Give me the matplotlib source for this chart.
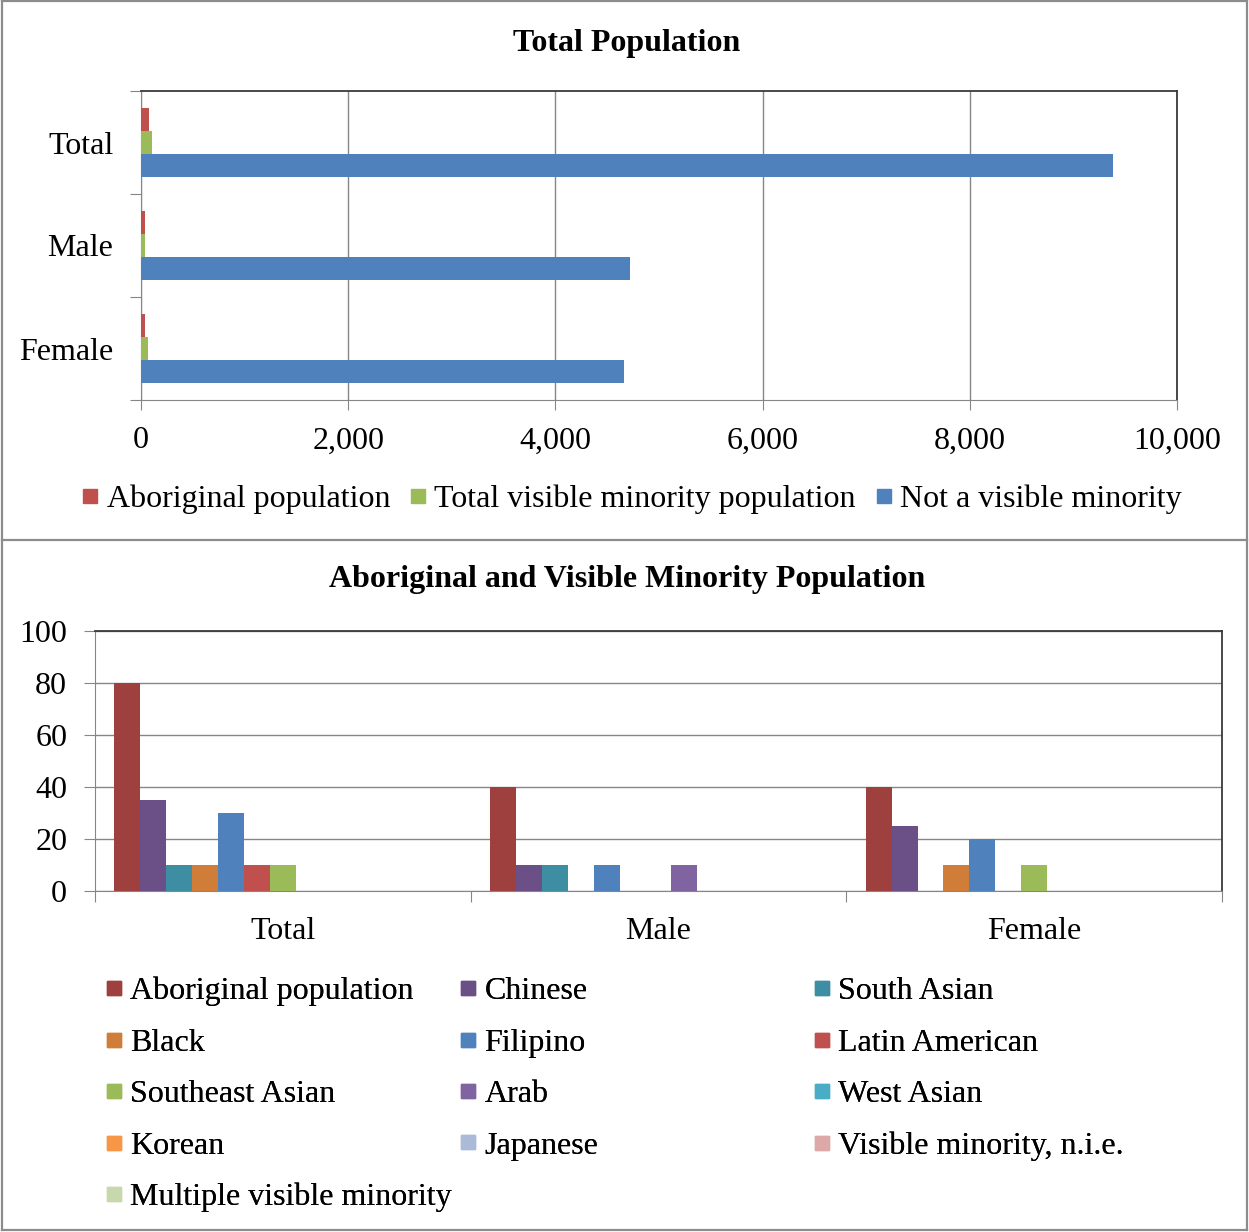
import numpy as np
import matplotlib
matplotlib.use('Agg')
import matplotlib.pyplot as plt
from matplotlib.lines import Line2D
from matplotlib.ticker import FuncFormatter

plt.rcParams['font.family'] = ['Liberation Serif', 'DejaVu Serif']

# --- data: total population ---
categories = ['Total', 'Male', 'Female']
aboriginal_pop = [80, 40, 40]
visible_minority_pop = [105, 40, 65]
not_visible_minority = [9385, 4720, 4665]

top_series = ['Aboriginal population', 'Total visible minority population', 'Not a visible minority']
top_colors = ['#C0504D', '#9BBB59', '#4F81BD']

# --- data: aboriginal and visible minority groups (Total, Male, Female) ---
aboriginal = [80, 40, 40]
chinese = [35, 10, 25]
south_asian = [10, 10, 0]
black = [10, 0, 10]
filipino = [30, 10, 20]
latin_american = [10, 0, 0]
southeast_asian = [10, 0, 10]
arab = [0, 10, 0]
west_asian = [0, 0, 0]
korean = [0, 0, 0]
japanese = [0, 0, 0]
vis_min_nie = [0, 0, 0]
multiple_vis_min = [0, 0, 0]

group_names = ['Aboriginal population', 'Chinese', 'South Asian', 'Black', 'Filipino',
               'Latin American', 'Southeast Asian', 'Arab', 'West Asian', 'Korean',
               'Japanese', 'Visible minority, n.i.e.', 'Multiple visible minority']
group_values = [aboriginal, chinese, south_asian, black, filipino, latin_american,
                southeast_asian, arab, west_asian, korean, japanese, vis_min_nie,
                multiple_vis_min]
group_colors = ['#9E413E', '#6A5087', '#3D8DA3', '#CF7D39', '#4F81BD', '#C0504D',
                '#9BBB59', '#8064A2', '#4BACC6', '#F79646', '#AABAD7', '#DDA9A8',
                '#C7D8AD']

FS = 23
GREY = '#868686'
DARK = '#3a3a3a'
W, H = 1249, 1232

fig = plt.figure(figsize=(W / 100, H / 100), dpi=100)

def fx(px):
    return px / W

def fy(py):
    return 1 - py / H

# ---------- top chart ----------
ax1 = fig.add_axes([fx(141), fy(400), fx(1177) - fx(141), fy(91) - fy(400)])
y = np.arange(len(categories))
h = 1 / (3 + 1.5)
for k, (vals, col) in enumerate(zip([aboriginal_pop, visible_minority_pop, not_visible_minority], top_colors)):
    ax1.barh(y + (k - 1) * h, vals, height=h, color=col, zorder=3)
ax1.set_xlim(0, 10000)
ax1.set_ylim(2.5, -0.5)
ax1.set_xticks(np.arange(0, 10001, 2000))
ax1.xaxis.set_major_formatter(FuncFormatter(lambda v, p: f'{int(v):,}'))
ax1.tick_params(axis='x', length=7, color=GREY, labelsize=FS, pad=12)
ax1.set_yticks([-0.5, 0.5, 1.5, 2.5])
ax1.set_yticklabels([])
ax1.set_yticks(y, minor=True)
ax1.set_yticklabels(categories, minor=True)
ax1.tick_params(axis='y', which='major', length=8, color=GREY)
ax1.tick_params(axis='y', which='minor', length=0, labelsize=FS, pad=20)
ax1.grid(axis='x', color=GREY, lw=1, zorder=0)
for s in ['left', 'bottom']:
    ax1.spines[s].set_color(GREY)
for s in ['top', 'right']:
    ax1.spines[s].set_color(DARK)
    ax1.spines[s].set_linewidth(1.3)

fig.text(fx(627), fy(43), 'Total Population', ha='center', va='center',
         fontsize=FS, fontweight='bold')

top_handles = [Line2D([], [], marker='s', ls='none', markersize=10, color=c) for c in top_colors]
fig.legend(top_handles, top_series, loc='center', bbox_to_anchor=(fx(632), fy(499)),
           ncol=3, frameon=False, fontsize=FS, borderpad=0, borderaxespad=0,
           handlelength=0.5, handletextpad=0.26, columnspacing=0.62)

# ---------- bottom chart ----------
ax2 = fig.add_axes([fx(95), fy(891), fx(1222) - fx(95), fy(631) - fy(891)])
x = np.arange(len(categories))
w = 1 / (len(group_names) + 1.5)
for j, (vals, col) in enumerate(zip(group_values, group_colors)):
    ax2.bar(x + (j - 6) * w, vals, width=w, color=col, zorder=3)
ax2.set_xlim(-0.5, 2.5)
ax2.set_ylim(0, 100)
ax2.set_yticks(np.arange(0, 101, 20))
ax2.tick_params(axis='y', length=8, color=GREY, labelsize=FS, pad=12)
ax2.set_xticks([-0.5, 0.5, 1.5, 2.5])
ax2.set_xticklabels([])
ax2.set_xticks(x, minor=True)
ax2.set_xticklabels(categories, minor=True)
ax2.tick_params(axis='x', which='major', length=8, color=GREY)
ax2.tick_params(axis='x', which='minor', length=0, labelsize=FS, pad=19)
ax2.grid(axis='y', color=GREY, lw=1, zorder=0)
for s in ['left', 'bottom']:
    ax2.spines[s].set_color(GREY)
for s in ['top', 'right']:
    ax2.spines[s].set_color(DARK)
    ax2.spines[s].set_linewidth(1.3)

fig.text(fx(627), fy(580), 'Aboriginal and Visible Minority Population', ha='center',
         va='center', fontsize=FS, fontweight='bold')

# legend laid out row by row in three equal-width columns
handles = [Line2D([], [], marker='s', ls='none', markersize=10, color=c) for c in group_colors]
col_x = [106, 460, 814]
for c in range(3):
    idx = list(range(c, len(group_names), 3))
    leg = fig.legend([handles[i] for i in idx], [group_names[i] for i in idx],
                     loc='upper left', bbox_to_anchor=(fx(col_x[c]), fy(977)),
                     frameon=False, fontsize=FS, borderpad=0, borderaxespad=0,
                     handlelength=0.5, handletextpad=0.26, labelspacing=0.69)
    fig.add_artist(leg)

# outer frame and divider
frame = dict(color='#8c8c8c', lw=1.6, transform=fig.transFigure)
fig.add_artist(Line2D([fx(2), fx(2)], [fy(1), fy(1230)], **frame))
fig.add_artist(Line2D([fx(1247), fx(1247)], [fy(1), fy(1230)], **frame))
fig.add_artist(Line2D([fx(2), fx(1247)], [fy(1), fy(1)], **frame))
fig.add_artist(Line2D([fx(2), fx(1247)], [fy(1230), fy(1230)], **frame))
fig.add_artist(Line2D([fx(2), fx(1247)], [fy(540), fy(540)], **frame))

fig.savefig('out.png', dpi=100)
